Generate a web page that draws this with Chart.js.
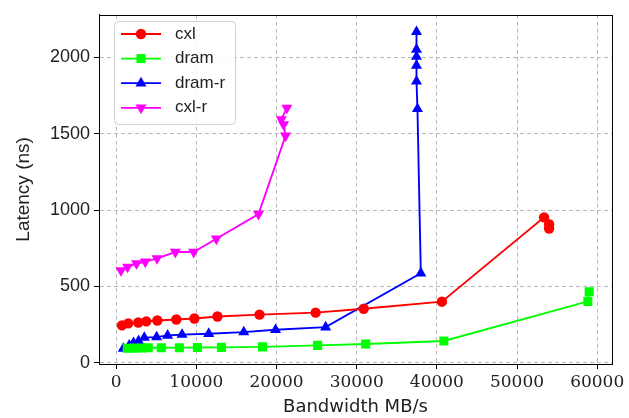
<!DOCTYPE html>
<html lang="en">
<head>
<meta charset="UTF-8">
<title>Latency vs Bandwidth</title>
<script src="https://cdn.jsdelivr.net/npm/chart.js@4.4.0/dist/chart.umd.min.js"></script>
<style>
  body { margin: 0; background: #fff; }
  #wrap { position: relative; width: 629px; height: 418px; }
</style>
</head>
<body>
<div id="wrap"><canvas id="chart"></canvas></div>
<script>
// bandwidth (MB/s) / latency (ns)
const cxlX   = [712, 1500, 2750, 3750, 5125, 7500, 9750, 12625, 17875, 24875, 30875, 40625, 53375, 54000, 54000];
const cxlY   = [245, 258, 264, 271, 277, 283, 290, 303, 315, 328, 354, 400, 952, 907, 879];

const dramX  = [1375, 2250, 3250, 4000, 5625, 7875, 10125, 13125, 18250, 25125, 31125, 40875, 58840, 59000];
const dramY  = [95, 96, 97, 98, 98, 99, 100, 101, 104, 114, 123, 143, 402, 465];

const dramRX = [875, 1625, 2160, 2790, 3500, 5040, 6410, 8210, 11540, 15910, 19875, 26125, 38000, 37580, 37460, 37460, 37460, 37460, 37460];
const dramRY = [93, 114, 130, 143, 165, 168, 179, 184, 190, 201, 216, 233, 586, 1662, 1842, 1946, 2004, 2051, 2166];

const cxlRX  = [590, 1410, 2540, 3625, 5090, 7375, 9660, 12490, 17750, 21125, 20875, 20590, 21290];
const cxlRY  = [605, 628, 650, 661, 683, 725, 725, 812, 974, 1486, 1561, 1593, 1669];

const xTicks = [0, 10000, 20000, 30000, 40000, 50000, 60000];
const yTicks = [0, 500, 1000, 1500, 2000];

const pts = (xs, ys) => xs.map((x, i) => ({ x: x, y: ys[i] }));

const series = [
  { label: 'cxl',    data: pts(cxlX, cxlY),     color: '#ff0000', style: 'circle',   rot: 0,   r: 5.2 },
  { label: 'dram',   data: pts(dramX, dramY),   color: '#00ff00', style: 'rect',     rot: 0,   r: 6.4 },
  { label: 'dram-r', data: pts(dramRX, dramRY), color: '#0000ff', style: 'triangle', rot: 0,   r: 6.4 },
  { label: 'cxl-r',  data: pts(cxlRX, cxlRY),   color: '#ff00ff', style: 'triangle', rot: 180, r: 6.4 }
];

const sansFont = "'Liberation Sans', 'DejaVu Sans', sans-serif";
const serifFont = "'DejaVu Serif', 'Liberation Serif', serif";

// black frame around the plot area (like matplotlib spines)
const framePlugin = {
  id: 'frame',
  afterDraw(chart) {
    const a = chart.chartArea, ctx = chart.ctx;
    ctx.save();
    ctx.strokeStyle = '#000';
    ctx.lineWidth = 1;
    ctx.strokeRect(Math.round(a.left) + 0.5, Math.round(a.top) + 0.5,
                   Math.round(a.right - a.left), Math.round(a.bottom - a.top));
    ctx.restore();
  }
};

function marker(ctx, s, x, y) {
  ctx.fillStyle = s.color;
  ctx.beginPath();
  if (s.style === 'circle') {
    ctx.arc(x, y, s.r, 0, Math.PI * 2);
  } else if (s.style === 'rect') {
    const h = s.r * Math.SQRT1_2;
    ctx.rect(x - h, y - h, 2 * h, 2 * h);
  } else {
    const dir = s.rot ? -1 : 1;
    ctx.moveTo(x, y - dir * s.r);
    ctx.lineTo(x + s.r * 0.866, y + dir * s.r * 0.5);
    ctx.lineTo(x - s.r * 0.866, y + dir * s.r * 0.5);
    ctx.closePath();
  }
  ctx.fill();
}

// matplotlib-like legend box in the upper left
const legendPlugin = {
  id: 'mplLegend',
  afterDraw(chart) {
    const ctx = chart.ctx;
    const bx = 114, by = 21, bw = 121, bh = 103;
    ctx.save();
    ctx.fillStyle = 'rgba(255,255,255,0.85)';
    ctx.strokeStyle = '#d0d0d0';
    ctx.lineWidth = 1;
    ctx.beginPath();
    ctx.roundRect(bx + 0.5, by + 0.5, bw, bh, 4);
    ctx.fill();
    ctx.stroke();
    ctx.font = '17px ' + sansFont;
    ctx.textBaseline = 'middle';
    series.forEach((s, i) => {
      const y = 34 + i * 24.6;
      ctx.strokeStyle = s.color;
      ctx.lineWidth = 1.8;
      ctx.beginPath();
      ctx.moveTo(121, y);
      ctx.lineTo(161, y);
      ctx.stroke();
      marker(ctx, s, 141, y);
      ctx.fillStyle = '#222';
      ctx.fillText(s.label, 175, y);
    });
    ctx.restore();
  }
};

const gridOpts = {
  color: '#b8b8b8',
  lineWidth: 1,
  drawTicks: true,
  tickLength: 5,
  tickColor: '#000',
  tickBorderDash: [],
  tickWidth: 1
};

new Chart(document.getElementById('chart'), {
  type: 'scatter',
  data: {
    datasets: series.map(s => ({
      label: s.label,
      data: s.data,
      showLine: true,
      borderColor: s.color,
      backgroundColor: s.color,
      borderWidth: 1.9,
      pointStyle: s.style,
      rotation: s.rot,
      pointRadius: s.r,
      pointHoverRadius: s.r,
      pointBorderWidth: 0,
      tension: 0
    }))
  },
  options: {
    responsive: true,
    maintainAspectRatio: false,
    animation: false,
    devicePixelRatio: 1,
    layout: { padding: { top: 11, right: 17, left: 0, bottom: 0 } },
    plugins: {
      legend: { display: false },
      tooltip: { enabled: false }
    },
    scales: {
      x: {
        type: 'linear',
        min: -2150,
        max: 61850,
        afterBuildTicks(scale) { scale.ticks = xTicks.map(v => ({ value: v })); },
        afterFit(scale) { scale.height = 54; },
        grid: Object.assign({}, gridOpts),
        border: { display: true, color: '#000', dash: [4, 3] },
        ticks: {
          color: '#222',
          padding: 3,
          maxRotation: 0,
          autoSkip: false,
          font: { family: serifFont, size: 17 },
          callback: v => String(v)
        },
        title: {
          display: true,
          text: 'Bandwidth MB/s',
          color: '#222',
          padding: { top: 0, bottom: 0 },
          font: { family: "'DejaVu Sans', sans-serif", size: 18 }
        }
      },
      y: {
        type: 'linear',
        min: -8,
        max: 2278,
        afterBuildTicks(scale) { scale.ticks = yTicks.map(v => ({ value: v })); },
        afterFit(scale) { scale.width = 99; },
        grid: Object.assign({}, gridOpts),
        border: { display: true, color: '#000', dash: [4, 3] },
        ticks: {
          color: '#222',
          padding: 4,
          autoSkip: false,
          font: { family: sansFont, size: 18 },
          callback: v => String(v)
        },
        title: {
          display: true,
          text: 'Latency (ns)',
          color: '#222',
          padding: { top: 12, bottom: 0 },
          font: { family: sansFont, size: 19 }
        }
      }
    }
  },
  plugins: [framePlugin, legendPlugin]
});
</script>
</body>
</html>
